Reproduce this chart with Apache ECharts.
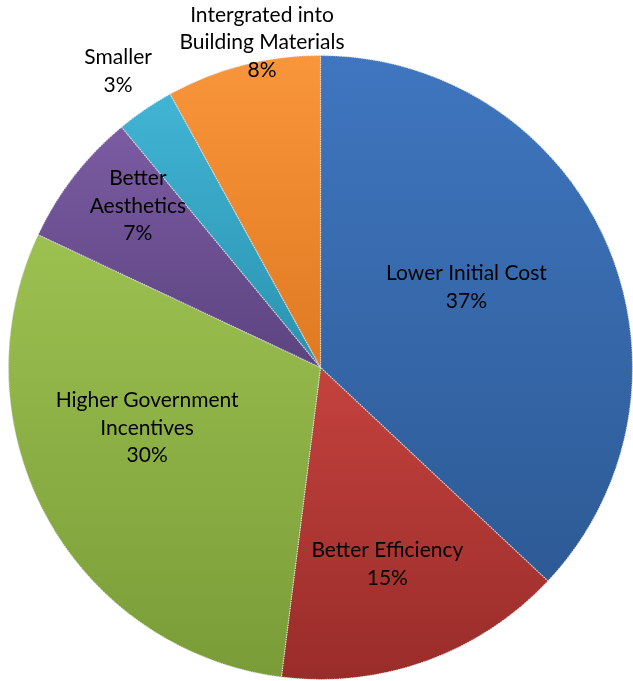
<!DOCTYPE html>
<html>
<head>
<meta charset="utf-8">
<script src="https://cdn.jsdelivr.net/npm/echarts@6/dist/echarts.min.js"></script>
<style>
  html, body { margin: 0; padding: 0; background: #ffffff; }
  #chart { width: 633px; height: 681px; }
</style>
</head>
<body>
<div id="chart"></div>
<script>
// Survey shares: what would make solar panels more attractive
const categories = [
  'Lower Initial Cost',
  'Better Efficiency',
  'Higher Government\nIncentives',
  'Better\nAesthetics',
  'Smaller',
  'Intergrated into\nBuilding Materials'
];
const shares = [37, 15, 30, 7, 3, 8];

// Slice fills: [light, dark] for a soft vertical gradient
const sliceColors = [
  ['#3f76bf', '#2d5a95'],
  ['#c4423e', '#992c29'],
  ['#9cc150', '#7a9c38'],
  ['#7b5ba2', '#5c4480'],
  ['#41b4d4', '#2b92b0'],
  ['#f9953b', '#e07a22']
];

// Label nudges from the default in-slice anchor
const labelShift = [
  [0, -17],
  [13, 47],
  [-34, -16],
  [-57, -64],
  [-113, -165],
  [-19, -171]
];

const chart = echarts.init(document.getElementById('chart'), null, { renderer: 'canvas' });

const data = categories.map((name, i) => ({
  name,
  value: shares[i],
  itemStyle: {
    color: new echarts.graphic.LinearGradient(0, 0, 0, 1, [
      { offset: 0, color: sliceColors[i][0] },
      { offset: 1, color: sliceColors[i][1] }
    ])
  }
}));

chart.setOption({
  backgroundColor: '#ffffff',
  animation: false,
  series: [{
    type: 'pie',
    center: [320.5, 367.5],
    radius: [0, 312],
    startAngle: 90,
    clockwise: true,
    data,
    itemStyle: {
      borderColor: 'rgba(225,225,230,0.8)',
      borderWidth: 1.2,
      borderType: 'dotted'
    },
    label: {
      show: true,
      position: 'inside',
      color: '#000000',
      fontFamily: 'Lato, sans-serif',
      fontSize: 21,
      lineHeight: 27.5,
      align: 'center',
      formatter: p => p.name + '\n' + Math.round(p.percent) + '%'
    },
    labelLine: { show: false },
    labelLayout: p => ({ dx: labelShift[p.dataIndex][0], dy: labelShift[p.dataIndex][1] })
  }]
});
</script>
</body>
</html>
